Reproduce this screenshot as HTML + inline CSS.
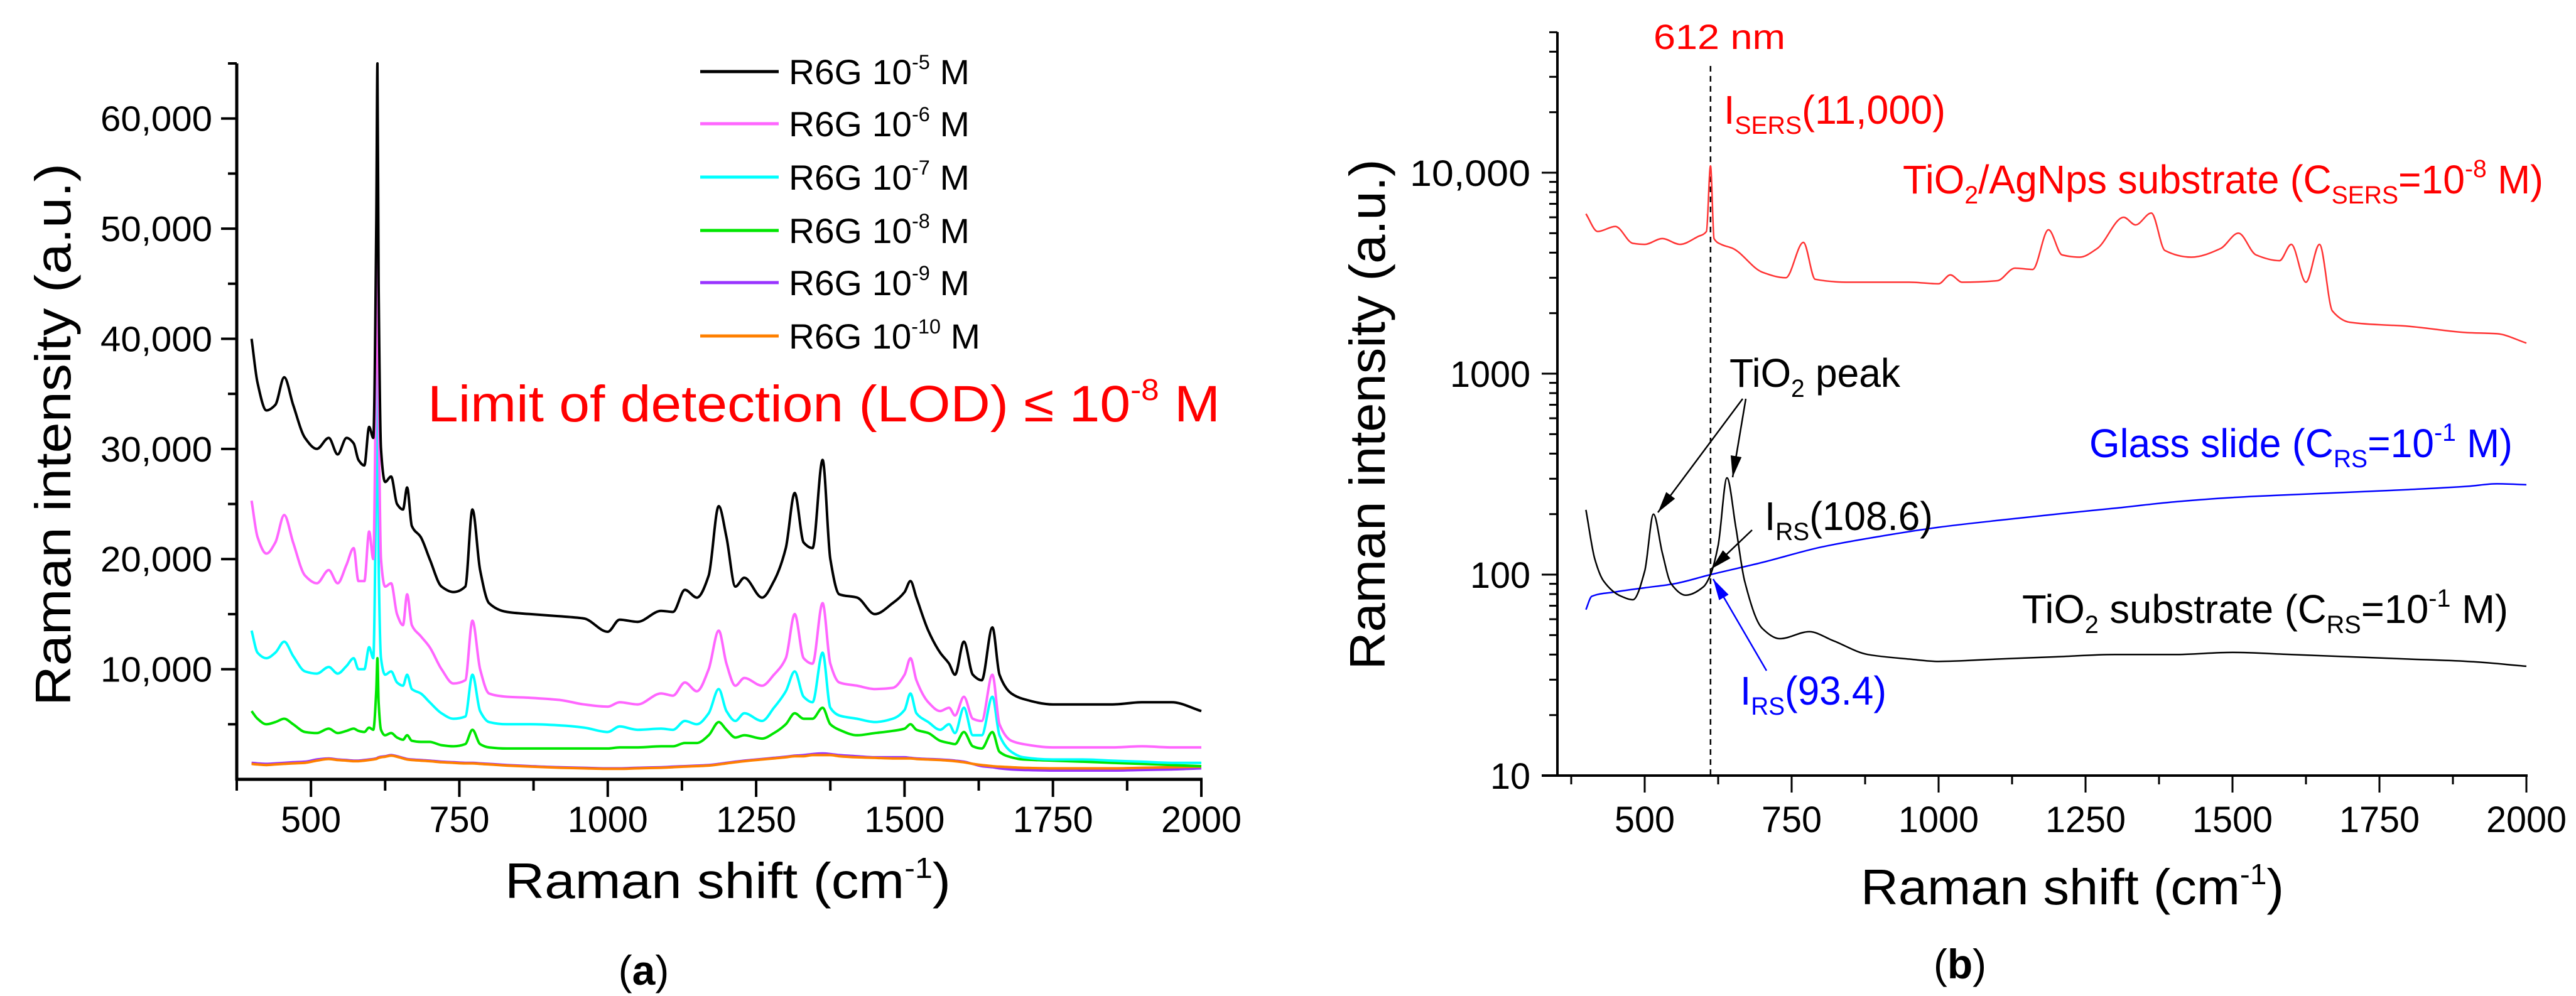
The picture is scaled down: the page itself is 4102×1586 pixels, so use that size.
<!DOCTYPE html>
<html><head><meta charset="utf-8"><style>
html,body{margin:0;padding:0;background:#fff}
svg{display:block}
text{font-family:"Liberation Sans",Arial,sans-serif}
</style></head><body>
<svg id="fig" width="4102" height="1586" viewBox="0 0 4102 1586" xmlns="http://www.w3.org/2000/svg">
<g id="pa"></g>
<g id="pb"></g>
</svg>
<script>
// ---------- Panel (a) data ----------
const xA = [400,410,425,440,455,470,490,510,530,545,560,572,580,590,598,605,610,612,614,618,625,635,645,655,662,670,685,700,720,740,760,772,785,800,830,870,920,960,1000,1020,1050,1090,1110,1130,1150,1170,1187,1200,1215,1230,1260,1280,1300,1315,1330,1345,1362,1375,1390,1420,1450,1480,1500,1510,1520,1540,1560,1575,1585,1600,1615,1630,1648,1660,1680,1700,1750,1800,1850,1900,1950,2000];
const r6g5 = [40,36,33.5,34,36.5,34,31,30,31,29.5,31,30.5,29,28.5,32,31,50,65,45,30,27,27.5,25,24.5,26.5,23,22,20,17.5,17,17.5,24.5,19,16,15.2,15,14.8,14.6,13.4,14.5,14.3,15.3,15.2,17.2,16.5,18.5,24.8,22,17.5,18.3,16.5,18,21,26,21.5,21,29,20,16.8,16.5,15,16,17,18,16.5,13.5,11.5,10.5,9.5,12.5,9.5,9,13.8,9.5,7.8,7.3,6.8,6.8,6.8,7,7,6.2];
const r6g6 = [25.3,22,20.5,21.5,24,21.5,18.5,17.8,19,17.8,19.5,21,18,18,22.5,20,40,51,35,20,17.5,17.8,15,14,16.8,14,13,12,10,8.7,9,14.4,10,7.8,7.5,7.4,7.2,6.8,6.6,7,6.8,7.8,7.6,8.8,8,10,13.5,10.5,8.5,9.2,8.5,9.5,11,15,11,10.5,16,10.5,8.8,8.5,8.2,8.3,9.5,11,9,7,6.2,6.5,5.8,7.5,5.5,5.3,9.5,5,3.5,3.2,2.9,2.9,2.9,3,2.9,2.9];
const r6g7 = [13.5,11.5,11,11.5,12.5,11.2,9.8,9.6,10.2,9.6,10.3,11,10,10,12,11,28,38,20,11,9.5,9.8,8.8,8.5,9.5,8.2,7.8,7,6,5.5,5.7,9.5,6.2,5.2,5,5,4.9,4.7,4.3,4.8,4.5,4.6,4.5,5.3,5,6,8.2,6.2,5.3,6,5.3,6.5,8,9.8,7.5,7,11.5,6.5,5.8,5.5,5.2,5.5,6.3,7.8,6,5.2,4.5,5,4.2,6.5,4,4,7.5,4,2.5,2,1.8,1.8,1.7,1.6,1.5,1.5];
const r6g8 = [6.2,5.5,5,5.2,5.5,5,4.3,4.2,4.6,4.2,4.4,4.6,4.4,4.3,4.7,4.5,8,11,7,4.5,4,4.2,3.8,3.6,4,3.5,3.4,3.4,3.1,3,3.2,4.5,3.2,2.9,2.8,2.8,2.8,2.8,2.8,2.9,2.9,3,3,3.3,3.3,4,5.2,4.5,3.8,4,3.7,4.2,5,6,5.5,5.5,6.5,5,4.5,4,4.2,4.4,4.6,5,4.5,4.2,3.5,3.3,3.2,4.3,3,2.8,4.3,2.5,2,1.8,1.7,1.6,1.5,1.4,1.3,1.2];
const r6g9 = [1.5,1.45,1.4,1.45,1.5,1.55,1.6,1.8,1.9,1.8,1.75,1.7,1.7,1.75,1.8,1.85,1.9,1.95,2,2.05,2.1,2.2,2.1,1.95,1.85,1.8,1.75,1.7,1.6,1.55,1.5,1.5,1.45,1.4,1.3,1.2,1.1,1.05,1,1,1.05,1.1,1.15,1.2,1.25,1.3,1.4,1.5,1.6,1.7,1.85,1.95,2.05,2.15,2.2,2.3,2.35,2.3,2.2,2.1,2,2,2,1.95,1.9,1.85,1.8,1.75,1.7,1.6,1.4,1.2,1.1,1,0.9,0.85,0.8,0.8,0.8,0.85,0.9,1.0];
const r6g10 = [1.4,1.35,1.3,1.35,1.4,1.45,1.5,1.7,1.85,1.75,1.7,1.65,1.65,1.7,1.75,1.8,1.85,1.9,1.95,2,2.05,2.15,2.05,1.9,1.8,1.75,1.7,1.65,1.55,1.5,1.45,1.45,1.4,1.35,1.25,1.15,1.05,1,0.95,0.95,1,1.05,1.1,1.15,1.2,1.25,1.35,1.45,1.55,1.65,1.8,1.9,2,2.1,2.1,2.2,2.2,2.2,2.1,2.0,1.95,1.9,1.9,1.9,1.85,1.8,1.75,1.7,1.65,1.55,1.4,1.3,1.2,1.15,1.1,1.05,1,1,1,1.05,1.1,1.15];
const seriesA = [r6g5,r6g6,r6g7,r6g8,r6g9,r6g10];
const namesA = ["r6g-1e-5","r6g-1e-6","r6g-1e-7","r6g-1e-8","r6g-1e-9","r6g-1e-10"];
const expA = ["-5","-6","-7","-8","-9","-10"];
const colorsA = ["#000000","#ff66ff","#00ffff","#00e600","#9933ff","#ff8000"];
const yTicksA = [10,20,30,40,50,60];
const yTickLabelsA = ["10,000","20,000","30,000","40,000","50,000","60,000"];
const xTicks = [500,750,1000,1250,1500,1750,2000];

// ---------- Panel (b) data ----------
const xRed = [400,420,450,480,500,530,560,590,605,612,618,630,650,700,740,770,790,850,950,1000,1020,1040,1100,1130,1160,1187,1210,1240,1270,1315,1335,1362,1385,1430,1480,1510,1540,1580,1600,1625,1648,1670,1700,1800,1900,1950,2000];
const yRed = [6240,5100,5400,4450,4400,4700,4400,4800,5100,10800,4700,4400,4200,3200,3000,4500,2950,2850,2850,2800,3100,2850,2900,3350,3300,5200,3900,3800,4200,6000,5500,6300,4100,3800,4200,5000,3900,3650,4400,2850,4400,2050,1800,1720,1600,1580,1420];
const xTi = [400,415,430,460,480,500,515,530,545,570,600,612,625,640,655,670,700,730,780,820,880,950,1000,1100,1200,1300,1400,1500,1600,1700,1800,1900,2000];
const yTi = [210,120,93,78,75,104,200,128,90,79,87,100,140,303,172,93,54,48,52,47,40,38,37,38,39,40,40,41,40,39,38,37,35];
const xGlass = [400,410,450,500,550,612,700,800,900,1000,1100,1200,1300,1400,1500,1600,1700,1800,1900,1950,2000];
const yGlass = [67,78,82,86,90,100,115,137,155,172,186,200,214,230,242,250,257,265,275,283,280];
const yTicksB = [10,100,1000,10000];
const yTickLabelsB = ["10","100","1000","10,000"];

const NS = "http://www.w3.org/2000/svg";
function mk(tag, attrs, parent){const e=document.createElementNS(NS,tag);for(const k in attrs)e.setAttribute(k,attrs[k]);if(parent)parent.appendChild(e);return e;}

// monotone cubic path through pixel points
function smoothPath(P){
  const n=P.length; if(n<2) return '';
  const d=[],m=[];
  for(let i=0;i<n-1;i++){d.push((P[i+1][1]-P[i][1])/(P[i+1][0]-P[i][0]));}
  m[0]=d[0]; m[n-1]=d[n-2];
  for(let i=1;i<n-1;i++){ if(d[i-1]*d[i]<=0) m[i]=0; else { const w1=2*(P[i+1][0]-P[i][0])+(P[i][0]-P[i-1][0]), w2=(P[i+1][0]-P[i][0])+2*(P[i][0]-P[i-1][0]); m[i]=(w1+w2)/(w1/d[i-1]+w2/d[i]); } }
  let s='M'+P[0][0].toFixed(1)+','+P[0][1].toFixed(1);
  for(let i=0;i<n-1;i++){
    const h=(P[i+1][0]-P[i][0])/3;
    s+=' C'+(P[i][0]+h).toFixed(1)+','+(P[i][1]+m[i]*h).toFixed(1)+' '+(P[i+1][0]-h).toFixed(1)+','+(P[i+1][1]-m[i+1]*h).toFixed(1)+' '+P[i+1][0].toFixed(1)+','+P[i+1][1].toFixed(1);
  }
  return s;
}

// ---------- Panel (a) ----------
const pa = document.getElementById('pa');
const ax = v => 377 + (v-375)*(1913-377)/1625;
const ay = v => 1241 - v*(1241-101)/65;
let e;
e = mk('line',{x1:377,y1:101,x2:377,y2:1243,stroke:'#000','stroke-width':5},pa);
 
e = mk('line',{x1:375,y1:1241,x2:1915,y2:1241,stroke:'#000','stroke-width':5},pa);
 
for(let v=5; v<=65; v+=5){
  const major = v%10===0;
  e = mk('line',{x1:377-(major?25:14),y1:ay(v),x2:377,y2:ay(v),stroke:'#000','stroke-width':4},pa);
   
}
yTicksA.forEach((v,i)=>{
  e = mk('text',{x:338,y:ay(v)+20,'text-anchor':'end','font-size':57,textLength:178,lengthAdjust:'spacingAndGlyphs'},pa);
  e.textContent = yTickLabelsA[i];
   
});
for(let v=375; v<=2000; v+=125){
  const major = v%250===0;
  e = mk('line',{x1:ax(v),y1:1241,x2:ax(v),y2:1241+(major?28:18),stroke:'#000','stroke-width':4},pa);
   
}
xTicks.forEach(v=>{
  const s=String(v);
  e = mk('text',{x:ax(v),y:1325,'text-anchor':'middle','font-size':58,textLength:s.length*32,lengthAdjust:'spacingAndGlyphs'},pa);
  e.textContent = s;
   
});
const orderA=[4,5,3,2,1,0];
orderA.forEach(i=>{
  const arr=seriesA[i];
  const P = xA.map((x,k)=>[ax(x),ay(arr[k])]);
  e = mk('path',{d:smoothPath(P),fill:'none',stroke:colorsA[i],'stroke-width':4,'stroke-linejoin':'round'},pa);
   
});
const legY = [114,197,282,367,450,535];
colorsA.forEach((c,i)=>{
  const g = mk('g',{},pa);
   
  mk('line',{x1:1115,y1:legY[i],x2:1240,y2:legY[i],stroke:c,'stroke-width':5},g);
  const t = mk('text',{x:1256,y:legY[i]+20,'font-size':56},g);
   
  t.innerHTML = 'R6G 10<tspan dy="-24" font-size="32">'+expA[i]+'</tspan><tspan dy="24"> M</tspan>';
  t.setAttribute('textLength', i===5?305:288); t.setAttribute('lengthAdjust','spacingAndGlyphs');
});
e = mk('text',{x:681,y:671,'font-size':82,fill:'#ff0000',textLength:1262,lengthAdjust:'spacingAndGlyphs'},pa);
e.innerHTML='Limit of detection (LOD) ≤ 10<tspan dy="-34" font-size="48">-8</tspan><tspan dy="34"> M</tspan>';
 
e = mk('text',{x:0,y:0,'font-size':80,transform:'translate(112,692) rotate(-90)','text-anchor':'middle',textLength:864,lengthAdjust:'spacingAndGlyphs'},pa);
e.textContent='Raman intensity (a.u.)';
 
e = mk('text',{x:804,y:1430,'font-size':80,textLength:710,lengthAdjust:'spacingAndGlyphs'},pa);
e.innerHTML='Raman shift (cm<tspan dy="-32" font-size="46">-1</tspan><tspan dy="32">)</tspan>';
 
e = mk('text',{x:1025,y:1568,'font-size':66,'text-anchor':'middle','font-family':'Liberation Serif, serif'},pa);
e.innerHTML='(<tspan font-weight="bold">a</tspan>)';
 

// ---------- Panel (b) ----------
const pb = document.getElementById('pb');
const bx = v => 2619 + (v-500)*(4023-2619)/1500;
const by = v => 1235 - Math.log10(v/10)*320;
e = mk('line',{x1:2480,y1:51,x2:2480,y2:1237,stroke:'#000','stroke-width':4},pb);
 
e = mk('line',{x1:2455,y1:1235,x2:4025,y2:1235,stroke:'#000','stroke-width':4},pb);
 
[10,100,1000,10000].forEach(d=>{
  for(let m=1;m<=9;m++){
    const v=d*m; if(v>50000) break;
    const major=m===1;
    e = mk('line',{x1:2480-(major?25:13),y1:by(v),x2:2480,y2:by(v),stroke:'#000','stroke-width':3},pb);
     
  }
});
yTicksB.forEach((v,i)=>{
  const s=yTickLabelsB[i];
  e = mk('text',{x:2437,y:by(v)+21,'text-anchor':'end','font-size':58,textLength:s.length*32,lengthAdjust:'spacingAndGlyphs'},pb);
  e.textContent=s;
   
});
for(let v=375; v<=2000; v+=125){
  const major=v%250===0;
  e = mk('line',{x1:bx(v),y1:1235,x2:bx(v),y2:1235+(major?27:14),stroke:'#000','stroke-width':3},pb);
   
}
xTicks.forEach(v=>{
  const s=String(v);
  e = mk('text',{x:bx(v),y:1325,'text-anchor':'middle','font-size':58,textLength:s.length*32,lengthAdjust:'spacingAndGlyphs'},pb);
  e.textContent=s;
   
});
e = mk('line',{x1:bx(612),y1:105,x2:bx(612),y2:1235,stroke:'#000','stroke-width':2.5,'stroke-dasharray':'9,7'},pb);
 
function poly(xs,ys,col){
  const P=xs.map((x,k)=>[bx(x),by(ys[k])]);
  return mk('path',{d:smoothPath(P),fill:'none',stroke:col,'stroke-width':2.5,'stroke-linejoin':'round'},pb);
}
e = poly(xGlass,yGlass,'#0000ff');
 
e = poly(xTi,yTi,'#000000');
 
e = poly(xRed,yRed,'#ff3333');
 
const defs = mk('defs',{},document.getElementById('fig'));
const mkr = (id,col)=>{const m=mk('marker',{id:id,viewBox:'0 0 10 10',refX:10,refY:5,markerWidth:34,markerHeight:22,markerUnits:'userSpaceOnUse',orient:'auto',preserveAspectRatio:'none'},defs);mk('path',{d:'M0,1 L10,5 L0,9 z',fill:col},m);};
mkr('ah','#000'); mkr('ahb','#0000ff');
[[2775,635,2640,816],[2780,635,2759,760],[2790,844,2725,906]].forEach(a=>{
  e = mk('line',{x1:a[0],y1:a[1],x2:a[2],y2:a[3],stroke:'#000','stroke-width':2.5,'marker-end':'url(#ah)'},pb);
   
});
e = mk('line',{x1:2813,y1:1068,x2:2728,y2:922,stroke:'#0000ff','stroke-width':2.5,'marker-end':'url(#ahb)'},pb);
 
function txt(x,y,size,col,html,len,name){
  const t=mk('text',{x:x,y:y,'font-size':size,fill:col},pb);
  t.innerHTML=html;
  if(len){t.setAttribute('textLength',len);t.setAttribute('lengthAdjust','spacingAndGlyphs');}
   
  return t;
}
txt(2633,78,56,'#ff0000','612 nm',210,'label-612nm');
txt(2745,197,64,'#ff0000','I<tspan dy="16" font-size="40">SERS</tspan><tspan dy="-16">(11,000)</tspan>',353,'isers-label');
txt(3030,308,64,'#ff0000','TiO<tspan dy="16" font-size="40">2</tspan><tspan dy="-16">/AgNps substrate (C</tspan><tspan dy="16" font-size="40">SERS</tspan><tspan dy="-16">=10</tspan><tspan dy="-26" font-size="40">-8</tspan><tspan dy="26"> M)</tspan>',1020,'tio2-agnps-label');
txt(2754,616,64,'#000','TiO<tspan dy="16" font-size="40">2</tspan><tspan dy="-16"> peak</tspan>',272,'tio2-peak-label');
txt(2810,844,64,'#000','I<tspan dy="16" font-size="40">RS</tspan><tspan dy="-16">(108.6)</tspan>',268,'irs-108-label');
txt(3327,728,64,'#0000ff','Glass slide (C<tspan dy="16" font-size="40">RS</tspan><tspan dy="-16">=10</tspan><tspan dy="-26" font-size="40">-1</tspan><tspan dy="26"> M)</tspan>',674,'glass-slide-label');
txt(3220,992,64,'#000','TiO<tspan dy="16" font-size="40">2</tspan><tspan dy="-16"> substrate (C</tspan><tspan dy="16" font-size="40">RS</tspan><tspan dy="-16">=10</tspan><tspan dy="-26" font-size="40">-1</tspan><tspan dy="26"> M)</tspan>',774,'tio2-substrate-label');
txt(2771,1122,64,'#0000ff','I<tspan dy="16" font-size="40">RS</tspan><tspan dy="-16">(93.4)</tspan>',233,'irs-93-label');
e = mk('text',{x:0,y:0,'font-size':80,transform:'translate(2205,660) rotate(-90)','text-anchor':'middle',textLength:813,lengthAdjust:'spacingAndGlyphs'},pb);
e.textContent='Raman intensity (a.u.)';
 
e = mk('text',{x:2963,y:1440,'font-size':80,textLength:674,lengthAdjust:'spacingAndGlyphs'},pb);
e.innerHTML='Raman shift (cm<tspan dy="-32" font-size="46">-1</tspan><tspan dy="32">)</tspan>';
 
e = mk('text',{x:3121,y:1558,'font-size':66,'text-anchor':'middle','font-family':'Liberation Serif, serif'},pb);
e.innerHTML='(<tspan font-weight="bold">b</tspan>)';
 
</script>
</body></html>
